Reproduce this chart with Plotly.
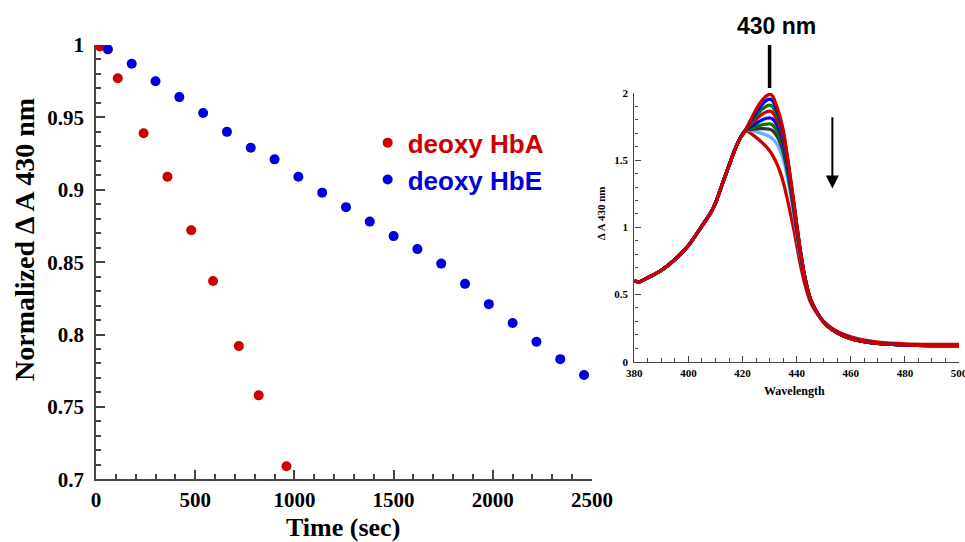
import plotly.graph_objects as go

# ---- Kinetics: normalized absorbance at 430 nm vs time ----
hba_time = [20, 110, 240, 360, 480, 590, 720, 820, 960]
hba_abs = [0.999, 0.977, 0.939, 0.909, 0.872, 0.837, 0.792, 0.758, 0.709]

hbe_time = [60, 180, 300, 420, 540, 660, 780, 900, 1020, 1140, 1260,
            1380, 1500, 1620, 1740, 1860, 1980, 2100, 2220, 2340, 2460]
hbe_abs = [0.997, 0.987, 0.975, 0.964, 0.953, 0.940, 0.929, 0.921, 0.909,
           0.898, 0.888, 0.878, 0.868, 0.859, 0.849, 0.835, 0.821, 0.808,
           0.795, 0.783, 0.772]

y_tickvals = [0.7, 0.75, 0.8, 0.85, 0.9, 0.95, 1.0]
y_ticktext = ["0.7", "0.75", "0.8", "0.85", "0.9", "0.95", "1"]
x_tickvals = [0, 500, 1000, 1500, 2000, 2500]
x_ticktext = ["0", "500", "1000", "1500", "2000", "2500"]

# ---- Spectra (inset) ----
# blue side of the Soret band, shared by every scan
wl_blue = [380, 382, 385, 390, 395, 400, 405, 408, 410, 413, 415, 417, 419]
abs_blue = [0.60, 0.595, 0.625, 0.68, 0.76, 0.865, 1.01, 1.10, 1.18, 1.35,
            1.46, 1.57, 1.66]

wl_peak = [421, 423, 425, 427, 429, 430, 431, 433, 435, 437, 439, 441]
scan_1 = [1.72, 1.80, 1.877, 1.94, 1.98, 1.99, 1.98, 1.88, 1.73, 1.47, 1.18, 0.88]
scan_2 = [1.72, 1.79, 1.855, 1.91, 1.947, 1.955, 1.945, 1.855, 1.71, 1.46, 1.17, 0.875]
scan_3 = [1.72, 1.777, 1.83, 1.876, 1.904, 1.91, 1.90, 1.825, 1.69, 1.45, 1.165, 0.87]
scan_4 = [1.72, 1.764, 1.804, 1.839, 1.86, 1.865, 1.857, 1.79, 1.665, 1.44, 1.16, 0.865]
scan_5 = [1.72, 1.749, 1.775, 1.798, 1.812, 1.815, 1.808, 1.75, 1.635, 1.42, 1.15, 0.86]
scan_6 = [1.72, 1.735, 1.75, 1.762, 1.769, 1.77, 1.763, 1.71, 1.60, 1.40, 1.135, 0.85]
scan_7 = [1.72, 1.728, 1.733, 1.735, 1.733, 1.73, 1.722, 1.67, 1.565, 1.37, 1.12, 0.84]
scan_8 = [1.72, 1.72, 1.712, 1.70, 1.685, 1.675, 1.66, 1.61, 1.51, 1.33, 1.09, 0.82]
scan_9 = [1.72, 1.70, 1.67, 1.635, 1.595, 1.57, 1.54, 1.46, 1.34, 1.17, 0.98, 0.76]

wl_tail = [443, 445, 447, 450, 453, 456, 460, 465, 470, 480, 490, 500]
tail_common = [0.63, 0.47, 0.385, 0.295, 0.24, 0.205, 0.172, 0.15, 0.137,
               0.125, 0.12, 0.12]
tail_last = [0.58, 0.45, 0.375, 0.30, 0.25, 0.215, 0.185, 0.16, 0.145,
             0.132, 0.128, 0.128]

scan_colors = ["#cc0000", "#0000ee", "#007a00", "#cc0000", "#0000ee",
               "#007a00", "#333333", "#66b2ff", "#cc0000"]
scans = [scan_1, scan_2, scan_3, scan_4, scan_5, scan_6, scan_7, scan_8, scan_9]
tails = [tail_common] * 8 + [tail_last]

inset_xticks = [380, 400, 420, 440, 460, 480, 500]
inset_yticks = [0, 0.5, 1, 1.5, 2]
inset_yticktext = ["0", "0.5", "1", "1.5", "2"]

RED = "#cc0000"
BLUE = "#0000dd"
AXIS = "#444444"
SERIF = "Liberation Serif, Times New Roman, serif"
SANS = "Liberation Sans, Arial, sans-serif"

fig = go.Figure()

fig.add_trace(go.Scatter(
    x=hba_time, y=hba_abs, mode="markers",
    marker=dict(color=RED, size=10),
    name="<span style='color:#cc0000'>deoxy HbA</span>",
    xaxis="x", yaxis="y"))
fig.add_trace(go.Scatter(
    x=hbe_time, y=hbe_abs, mode="markers",
    marker=dict(color=BLUE, size=10),
    name="<span style='color:#0000dd'>deoxy HbE</span>",
    xaxis="x", yaxis="y"))

# spectra, last scan drawn first so earlier scans sit on top
for i in reversed(range(len(scans))):
    fig.add_trace(go.Scatter(
        x=wl_blue + wl_peak + wl_tail,
        y=abs_blue + scans[i] + tails[i],
        mode="lines", line=dict(color=scan_colors[i], width=3.3, shape="spline",
                                smoothing=0.6),
        showlegend=False, hoverinfo="skip",
        xaxis="x2", yaxis="y2"))

main_tickfont = dict(family=SERIF, size=21, color="black", weight="bold")
inset_tickfont = dict(family=SERIF, size=11, color="black", weight="bold")


def axis_style(**kw):
    base = dict(automargin=False, showline=True, linecolor=AXIS,
                showgrid=False, zeroline=False, tickmode="array",
                ticks="inside", tickcolor=AXIS, ticklabeloverflow="allow",
                layer="above traces")
    base.update(kw)
    return base


fig.update_layout(
    width=965, height=542,
    margin=dict(l=0, r=0, t=0, b=0, autoexpand=False),
    paper_bgcolor="white", plot_bgcolor="white",
    showlegend=True,
    legend=dict(x=0.381, y=0.78, xanchor="left", yanchor="top",
                bgcolor="rgba(0,0,0,0)",
                font=dict(family=SANS, size=26, weight="bold"),
                itemsizing="trace", tracegroupgap=0),
    xaxis=axis_style(domain=[96 / 965, 592 / 965], range=[0, 2500],
                     linewidth=1.8, tickvals=x_tickvals, ticktext=x_ticktext,
                     ticklen=9, tickwidth=2, ticklabelstandoff=1,
                     tickfont=main_tickfont,
                     minor=dict(ticks="inside", ticklen=5, tickwidth=1.5,
                                tickcolor=AXIS, dtick=100, tick0=0),
                     anchor="y"),
    yaxis=axis_style(domain=[(542 - 479.3) / 542, (542 - 45) / 542],
                     range=[0.7, 1.0],
                     linewidth=1.8, tickvals=y_tickvals, ticktext=y_ticktext,
                     ticklen=9, tickwidth=2, ticklabelstandoff=6,
                     tickfont=main_tickfont,
                     minor=dict(ticks="inside", ticklen=5, tickwidth=1.5,
                                tickcolor=AXIS, dtick=0.01, tick0=0.7),
                     anchor="x"),
    xaxis2=axis_style(domain=[634.3 / 965, 959 / 965], range=[380, 500],
                      linewidth=1.4, tickvals=inset_xticks,
                      ticklen=6, tickwidth=1.3, ticklabelstandoff=1,
                      tickfont=inset_tickfont,
                      minor=dict(ticks="inside", ticklen=3.5, tickwidth=1.2,
                                 tickcolor=AXIS, dtick=5, tick0=380),
                      anchor="y2"),
    yaxis2=axis_style(domain=[(542 - 361.7) / 542, (542 - 93) / 542],
                      range=[0, 2],
                      linewidth=1.4, tickvals=inset_yticks,
                      ticktext=inset_yticktext,
                      ticklen=6, tickwidth=1.3, ticklabelstandoff=3,
                      tickfont=inset_tickfont,
                      minor=dict(ticks="inside", ticklen=3.5, tickwidth=1.2,
                                 tickcolor=AXIS, dtick=0.1, tick0=0),
                      anchor="x2"),
)


def label(text, x, y, size, family=SERIF, angle=0):
    fig.add_annotation(text=text, xref="paper", yref="paper",
                       x=x / 965, y=(542 - y) / 542,
                       xanchor="center", yanchor="middle",
                       showarrow=False, textangle=angle,
                       font=dict(family=family, size=size, color="black",
                                 weight="bold"))


# axis titles
label("Time (sec)", 343, 527, 26)
label("Normalized \u2206 A 430 nm", 24, 240, 28, angle=-90)
label("Wavelength", 794, 391, 12)
label("\u2206 A 430 nm", 601, 213, 11, angle=-90)

# 430 nm marker above the Soret peak
label("430 nm", 776, 26, 23, family=SANS)
fig.add_shape(type="line", xref="x2", yref="paper", x0=430, x1=430,
              y0=(542 - 88) / 542, y1=(542 - 45) / 542,
              line=dict(color="black", width=3.5))

# arrow showing the decrease over time
fig.add_annotation(x=453.2, y=1.29, ax=453.2, ay=1.83,
                   xref="x2", yref="y2", axref="x2", ayref="y2",
                   text="", showarrow=True, arrowhead=2, arrowsize=1.3,
                   arrowwidth=2, arrowcolor="black")

fig.write_html("out.html")
